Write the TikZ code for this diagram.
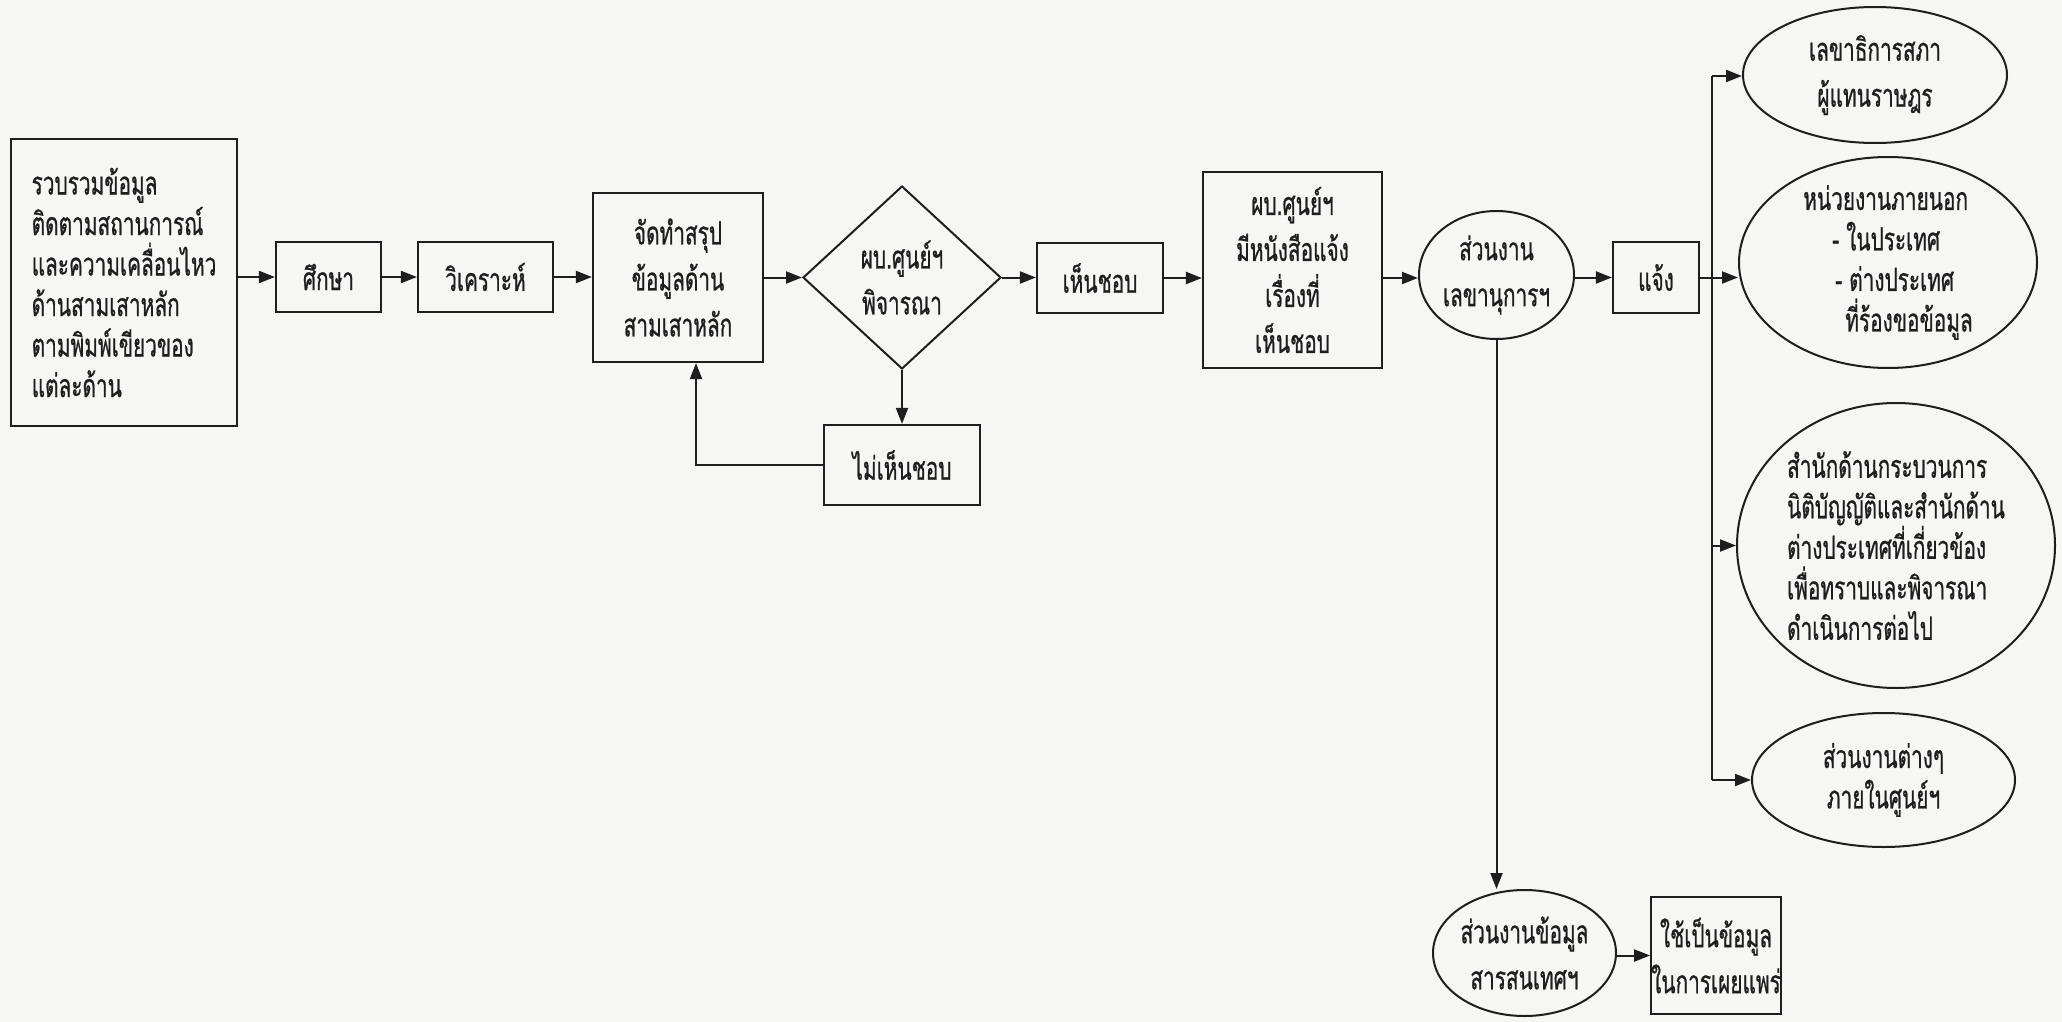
\documentclass[tikz,border=0pt]{standalone}
\usepackage{fontspec}
\newfontfamily\thaifont[Script=Thai,FakeStretch=0.65,FakeBold=0.7]{Loma}
\usetikzlibrary{shapes.geometric,arrows.meta}
\definecolor{ink}{RGB}{30,30,30}
\definecolor{paper}{RGB}{246,246,244}
\begin{document}
\begin{tikzpicture}[x=1pt,y=-1pt,
  every node/.style={font=\thaifont\fontsize{32}{46}\selectfont, text=ink},
  tight/.style={font=\thaifont\fontsize{32}{40.5}\selectfont},
  box/.style={draw=ink, line width=2.2pt, rectangle, inner sep=0pt, align=center},
  oval/.style={draw=ink, line width=2pt, ellipse, inner sep=-6pt, align=center},
  choice/.style={draw=ink, line width=2pt, diamond, inner sep=0pt, align=center},
  flow/.style={draw=ink, line width=2pt, -{Triangle[length=16pt,width=12pt]}},
  link/.style={draw=ink, line width=2pt}]

\fill[paper] (0,0) rectangle (2062,1022);
\useasboundingbox (0,0) rectangle (2062,1022);

% main row
\node[box, tight, align=left, minimum width=226pt, minimum height=287pt] (collect) at (124,282.5)
  {รวบรวมข้อมูล\\ติดตามสถานการณ์\\และความเคลื่อนไหว\\ด้านสามเสาหลัก\\ตามพิมพ์เขียวของ\\แต่ละด้าน};
\node[box, minimum width=105pt, minimum height=70pt] (study) at (328.5,277) {ศึกษา};
\node[box, minimum width=135pt, minimum height=70pt] (analyze) at (485.5,277) {วิเคราะห์};
\node[box, minimum width=170pt, minimum height=169pt] (summary) at (678,277.5) {จัดทำสรุป\\ข้อมูลด้าน\\สามเสาหลัก};
\node[choice, minimum width=198pt, minimum height=183pt] (decide) at (902,277.5) {ผบ.ศูนย์ฯ\\พิจารณา};
\node[box, minimum width=156pt, minimum height=80pt] (reject) at (902,465) {ไม่เห็นชอบ};
\node[box, minimum width=126pt, minimum height=70pt] (approve) at (1100,278) {เห็นชอบ};
\node[box, minimum width=179pt, minimum height=196pt] (letter) at (1292.5,270) {ผบ.ศูนย์ฯ\\มีหนังสือแจ้ง\\เรื่องที่\\เห็นชอบ};
\node[oval, minimum width=155pt, minimum height=128pt] (secretary) at (1496.5,275) {ส่วนงาน\\เลขานุการฯ};
\node[box, minimum width=86pt, minimum height=71pt] (notify) at (1656,277.5) {แจ้ง};

% recipients
\node[oval, minimum width=264pt, minimum height=136pt] (house) at (1875,75) {เลขาธิการสภา\\ผู้แทนราษฎร};
\node[oval, tight, align=left, minimum width=298pt, minimum height=211pt] (outside) at (1888,262.5)
  {หน่วยงานภายนอก\\\hspace*{29pt}- ในประเทศ\\\hspace*{32pt}- ต่างประเทศ\\\hspace*{42pt}ที่ร้องขอข้อมูล};
\node[oval, tight, align=left, minimum width=318pt, minimum height=285pt] (bureaus) at (1896,545.5)
  {สำนักด้านกระบวนการ\\นิติบัญญัติและสำนักด้าน\\ต่างประเทศที่เกี่ยวข้อง\\เพื่อทราบและพิจารณา\\ดำเนินการต่อไป};
\node[oval, tight, minimum width=263pt, minimum height=134pt] (units) at (1883.5,780) {ส่วนงานต่างๆ\\ภายในศูนย์ฯ};

% information branch
\node[oval, minimum width=183pt, minimum height=126pt] (info) at (1524.5,953) {ส่วนงานข้อมูล\\สารสนเทศฯ};
\node[box, minimum width=124pt, minimum height=117pt] (publish) at (1716,955.5) {ใช้เป็นข้อมูล\\ในการเผยแพร่};

\coordinate (bustop) at (1712,76);
\coordinate (busend) at (1712,780);
\coordinate (loop) at (696,464);

% connectors
\draw[flow] (study.west -| collect.east) -- (study.west);
\draw[flow] (study) -- (analyze);
\draw[flow] (analyze) -- (analyze -| summary.west);
\draw[flow] (summary.east |- decide) -- (decide.west);
\draw[flow] (decide.east) -- (decide.east -| approve.west);
\draw[flow] (decide.south) -- (reject.north);
\draw[flow] (reject.west) -| (loop |- summary.south);
\draw[flow] (approve.east) -- (approve.east -| letter.west);
\draw[flow] (approve.east -| letter.east) -- (approve.east -| secretary.west);
\draw[flow] (notify.west -| secretary.east) -- (notify.west);
\draw[flow] (notify.east) -- (notify.east -| outside.west);
\draw[link] (bustop) -- (busend);
\draw[flow] (bustop) -- (bustop -| house.west);
\draw[flow] (bureaus.west -| bustop) -- (bureaus.west);
\draw[flow] (busend) -- (busend -| units.west);
\draw[flow] (secretary.south) -- (secretary.south |- info.north);
\draw[flow] (info.east |- publish.west) -- (publish.west);
\end{tikzpicture}
\end{document}
